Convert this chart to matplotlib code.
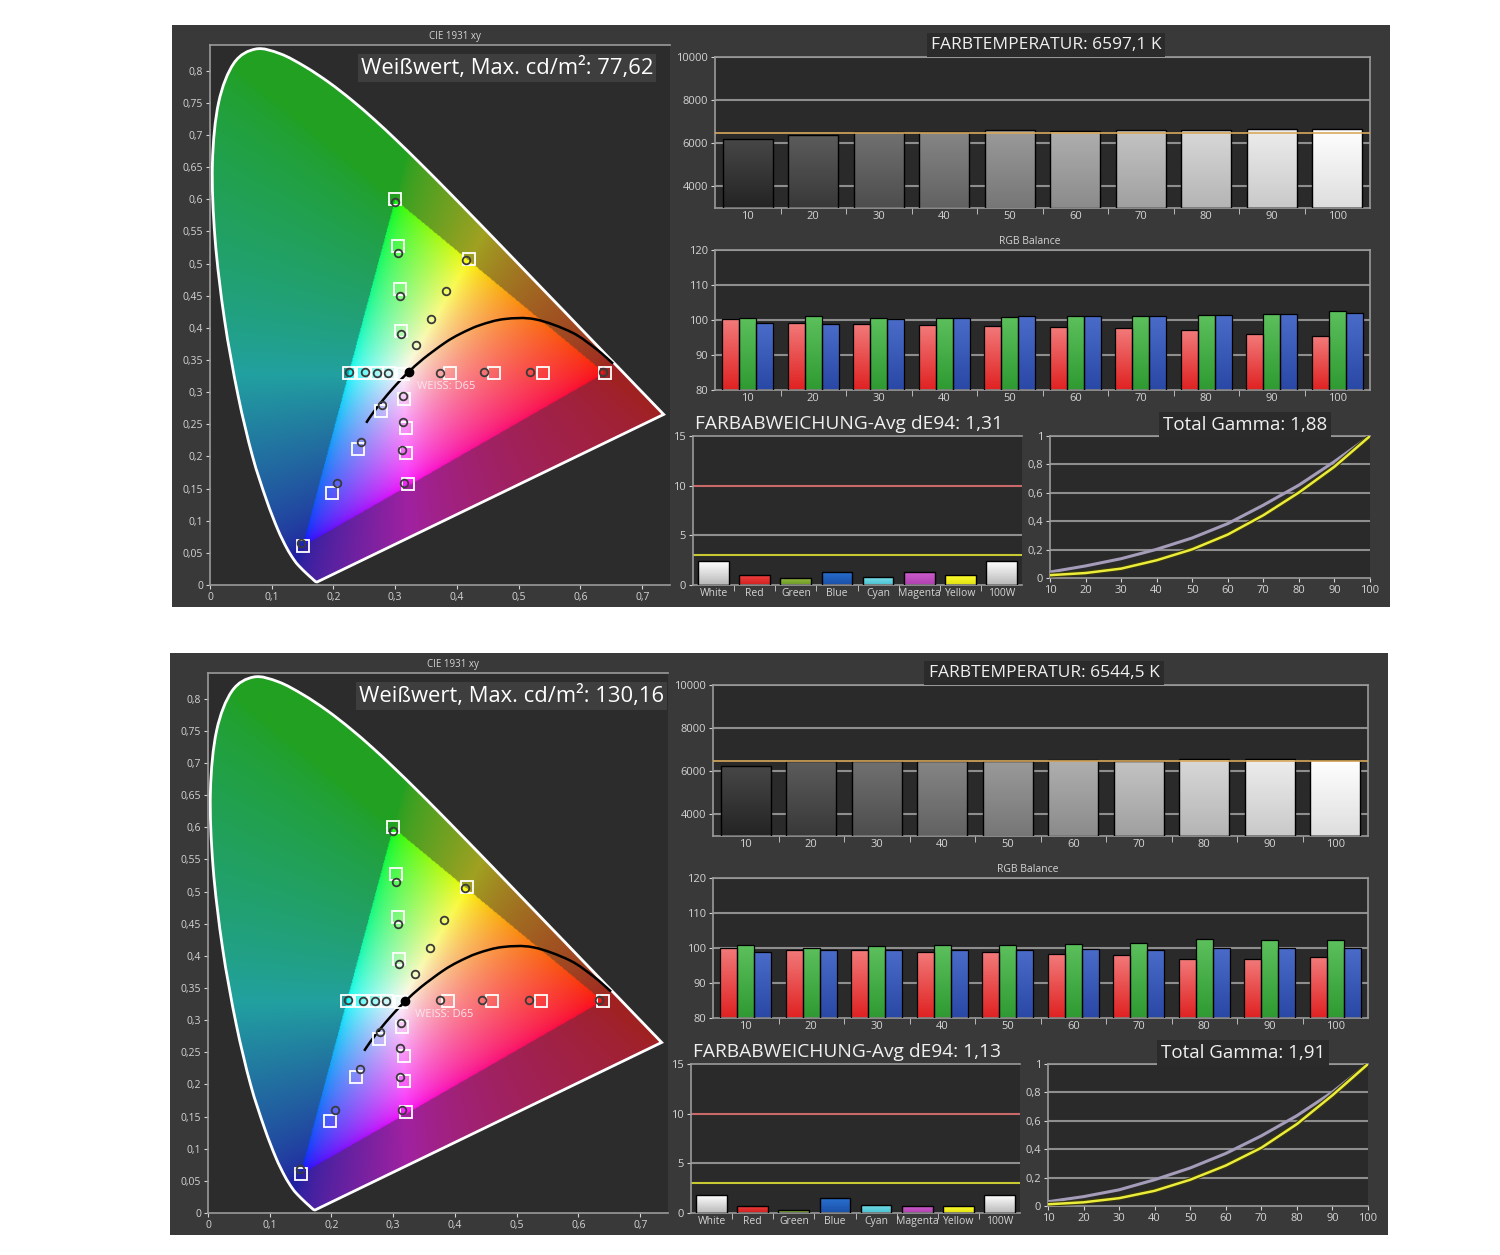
import numpy as np
import matplotlib
matplotlib.use('Agg')
import matplotlib.pyplot as plt
import matplotlib.colors as mcolors
from matplotlib.path import Path
from matplotlib.patches import Rectangle, PathPatch
from matplotlib.ticker import FuncFormatter

plt.rcParams['font.family'] = ['Open Sans', 'DejaVu Sans']

W, H = 1500, 1255

# CIE 1931 2 deg spectral locus, 380..700 nm
locus_x = [0.1741, 0.1733, 0.1714, 0.1689, 0.1644, 0.1566, 0.1440, 0.1355, 0.1241, 0.1096,
           0.0913, 0.0687, 0.0454, 0.0235, 0.0082, 0.0039, 0.0139, 0.0389, 0.0743, 0.1142,
           0.1547, 0.1929, 0.2296, 0.2658, 0.3016, 0.3373, 0.3731, 0.4087, 0.4441, 0.4788,
           0.5125, 0.5448, 0.5752, 0.6029, 0.6270, 0.6482, 0.6658, 0.6915, 0.7079, 0.7190,
           0.7260, 0.7300, 0.7334, 0.7347]
locus_y = [0.0050, 0.0048, 0.0051, 0.0069, 0.0109, 0.0177, 0.0297, 0.0399, 0.0578, 0.0868,
           0.1327, 0.2007, 0.2950, 0.4127, 0.5384, 0.6548, 0.7502, 0.8120, 0.8338, 0.8262,
           0.8059, 0.7816, 0.7543, 0.7243, 0.6923, 0.6589, 0.6245, 0.5896, 0.5547, 0.5202,
           0.4866, 0.4544, 0.4242, 0.3965, 0.3725, 0.3514, 0.3340, 0.3083, 0.2920, 0.2809,
           0.2740, 0.2700, 0.2666, 0.2653]

# Planckian locus 1000 K .. 25000 K
planck_x = [0.6528, 0.6251, 0.5857, 0.5267, 0.4770, 0.4369, 0.4053, 0.3805, 0.3451,
            0.3221, 0.3135, 0.3064, 0.2952, 0.2807, 0.2637, 0.2530]
planck_y = [0.3444, 0.3674, 0.3931, 0.4133, 0.4137, 0.4041, 0.3907, 0.3768, 0.3516,
            0.3318, 0.3237, 0.3166, 0.3048, 0.2884, 0.2674, 0.2523]

gamut_x = [0.64, 0.30, 0.15]
gamut_y = [0.33, 0.60, 0.06]

# target points (squares): red, green, blue, cyan, magenta sweeps, yellow 100 %, white
target_x = [0.388, 0.460, 0.540, 0.640, 0.310, 0.307, 0.304, 0.300, 0.277, 0.240, 0.197, 0.150,
            0.290, 0.270, 0.248, 0.225, 0.315, 0.317, 0.318, 0.320, 0.419, 0.3127]
target_y = [0.330, 0.330, 0.330, 0.330, 0.395, 0.460, 0.528, 0.600, 0.271, 0.212, 0.143, 0.060,
            0.330, 0.330, 0.330, 0.330, 0.289, 0.245, 0.205, 0.157, 0.507, 0.329]

# measured points (circles)
meas_x_top = [0.373, 0.444, 0.519, 0.636, 0.309, 0.307, 0.305, 0.2995, 0.278, 0.245, 0.205, 0.148,
              0.289, 0.271, 0.251, 0.225, 0.312, 0.312, 0.311, 0.315, 0.334, 0.358, 0.382, 0.415]
meas_y_top = [0.330, 0.332, 0.332, 0.332, 0.390, 0.450, 0.516, 0.596, 0.280, 0.222, 0.158, 0.066,
              0.330, 0.330, 0.331, 0.331, 0.294, 0.254, 0.210, 0.158, 0.373, 0.4145, 0.4575, 0.506]
meas_x_bot = [0.375, 0.443, 0.520, 0.634, 0.310, 0.308, 0.305, 0.300, 0.279, 0.246, 0.206, 0.149,
              0.289, 0.271, 0.251, 0.226, 0.312, 0.311, 0.311, 0.315, 0.335, 0.359, 0.383, 0.416]
meas_y_bot = [0.332, 0.332, 0.332, 0.332, 0.388, 0.449, 0.515, 0.594, 0.282, 0.224, 0.160, 0.068,
              0.330, 0.330, 0.330, 0.331, 0.296, 0.256, 0.212, 0.160, 0.372, 0.412, 0.456, 0.505]
white_meas_top = (0.3216, 0.331)
white_meas_bot = (0.3190, 0.330)

levels = ['10', '20', '30', '40', '50', '60', '70', '80', '90', '100']
ct_top = [6215, 6385, 6520, 6520, 6615, 6570, 6615, 6615, 6645, 6680]
ct_bot = [6260, 6500, 6490, 6490, 6500, 6520, 6500, 6560, 6560, 6510]

rgb_r_top = [100.2, 99.2, 98.8, 98.5, 98.3, 98.0, 97.7, 97.0, 95.9, 95.4]
rgb_g_top = [100.7, 101.0, 100.7, 100.7, 100.9, 101.0, 101.1, 101.4, 101.7, 102.6]
rgb_b_top = [99.0, 98.8, 100.2, 100.7, 101.0, 101.0, 101.0, 101.4, 101.7, 101.9]
rgb_r_bot = [100.0, 99.5, 99.5, 99.0, 98.8, 98.2, 98.0, 96.9, 96.9, 97.4]
rgb_g_bot = [100.8, 100.0, 100.5, 100.8, 100.8, 101.2, 101.5, 102.5, 102.2, 102.2]
rgb_b_bot = [98.8, 99.5, 99.5, 99.5, 99.5, 99.8, 99.5, 100.0, 100.0, 100.0]

de_labels = ['White', 'Red', 'Green', 'Blue', 'Cyan', 'Magenta', 'Yellow', '100W']
de_top = [2.38, 1.0, 0.73, 1.32, 0.76, 1.32, 1.0, 2.38]
de_bot = [1.8, 0.75, 0.34, 1.46, 0.85, 0.75, 0.68, 1.8]

gamma_x = [10, 20, 30, 40, 50, 60, 70, 80, 90, 100]
gamma_meas_top = [0.042, 0.085, 0.136, 0.202, 0.282, 0.383, 0.513, 0.654, 0.820, 1.0]
gamma_ref_top = [0.020, 0.035, 0.066, 0.125, 0.202, 0.306, 0.442, 0.602, 0.784, 1.0]
gamma_meas_bot = [0.030, 0.066, 0.114, 0.185, 0.268, 0.370, 0.494, 0.636, 0.802, 1.0]
gamma_ref_bot = [0.012, 0.026, 0.055, 0.107, 0.185, 0.285, 0.410, 0.577, 0.780, 1.0]

PANELS = [
    dict(dx=0, dy=0, white='77,62', temp='6597,1', de_avg='1,31', gamma='1,88',
         mx=meas_x_top, my=meas_y_top, wm=white_meas_top, ct=ct_top,
         r=rgb_r_top, g=rgb_g_top, b=rgb_b_top, de=de_top,
         gm=gamma_meas_top, gr=gamma_ref_top),
    dict(dx=-2, dy=628, white='130,16', temp='6544,5', de_avg='1,13', gamma='1,91',
         mx=meas_x_bot, my=meas_y_bot, wm=white_meas_bot, ct=ct_bot,
         r=rgb_r_bot, g=rgb_g_bot, b=rgb_b_bot, de=de_bot,
         gm=gamma_meas_bot, gr=gamma_ref_bot),
]

TXT = '#d4d4d4'
GRID = '#8e8e8e'
FACE = '#2a2a2a'


def comma(v, pos=None):
    return f"{v:g}".replace('.', ',')


def px_box(l, t, r, b, dx=0, dy=0):
    return [(l + dx) / W, 1 - (b + dy) / H, (r - l) / W, (b - t) / H]


def style_axes(ax):
    ax.set_facecolor(FACE)
    for s in ax.spines.values():
        s.set_color('#9a9a9a')
        s.set_linewidth(1.2)
    ax.tick_params(colors=TXT, labelsize=8, length=3, width=0.8, pad=2)


def smooth_path(xs, ys, close=False):
    # Catmull-Rom through the tabulated points, drawn as bezier segments
    P = np.column_stack([xs, ys])
    n = len(P)
    verts, codes = [P[0]], [Path.MOVETO]
    for i in range(n - 1):
        p0, p1, p2, p3 = P[max(i - 1, 0)], P[i], P[i + 1], P[min(i + 2, n - 1)]
        verts += [p1 + (p2 - p0) / 6, p2 - (p3 - p1) / 6, p2]
        codes += [Path.CURVE4] * 3
    if close:
        verts += [P[0], P[0]]
        codes += [Path.LINETO, Path.CLOSEPOLY]
    return Path(np.array(verts), codes)


def shade_bars(ax, bars, tops, bottoms):
    grad = np.linspace(0, 1, 64)[:, None, None]
    for bar, ct, cb in zip(bars, tops, bottoms):
        x, y = bar.get_x(), bar.get_y()
        w, h = bar.get_width(), bar.get_height()
        c1 = np.array(mcolors.to_rgb(ct))
        c0 = np.array(mcolors.to_rgb(cb))
        img = c0 + (c1 - c0) * grad
        im = ax.imshow(img, extent=[x, x + w, y, y + h], origin='lower', aspect='auto',
                       interpolation='bilinear', zorder=2.5)
        im.set_clip_path(bar)


# chromaticity background image (computed once)
xs = np.linspace(0.0005, 0.745, 520)
ys = np.linspace(0.0005, 0.84, 580)
XX, YY = np.meshgrid(xs, ys)
xyz = np.stack([XX / YY, np.ones_like(XX), (1 - XX - YY) / YY], -1)
M = np.array([[3.2406, -1.5372, -0.4986],
              [-0.9689, 1.8758, 0.0415],
              [0.0557, -0.2040, 1.0570]])
rgb = np.clip(xyz @ M.T, 0, None)
rgb = rgb / np.maximum(rgb.max(-1, keepdims=True), 1e-6)
rgb = rgb ** 0.6
pts = np.column_stack([XX.ravel(), YY.ravel()])
in_tri = Path(np.column_stack([gamut_x, gamut_y])).contains_points(pts).reshape(XX.shape)
rgb[~in_tri] = rgb[~in_tri] * 0.5 + 0.13
rgb[in_tri] = rgb[in_tri] * 0.94 + 0.04
rgb = np.clip(rgb, 0, 1)

fig = plt.figure(figsize=(W / 100, H / 100), dpi=100, facecolor='white')

for p in PANELS:
    dx, dy = p['dx'], p['dy']

    fig.patches.append(Rectangle(((172 + dx) / W, 1 - (607 + dy) / H), 1218 / W, 582 / H,
                                 transform=fig.transFigure, facecolor='#393939',
                                 edgecolor='none', zorder=-5))

    # ---------- CIE 1931 xy ----------
    ax = fig.add_axes(px_box(210, 45, 670, 585, dx, dy))
    style_axes(ax)
    ax.set_facecolor('#2c2c2c')
    ax.spines['right'].set_visible(False)
    locus_path = smooth_path(locus_x, locus_y, close=True)
    clip = PathPatch(locus_path, transform=ax.transData, facecolor='none', edgecolor='none')
    ax.add_patch(clip)
    im = ax.imshow(rgb, extent=[xs[0], xs[-1], ys[0], ys[-1]], origin='lower',
                   aspect='auto', interpolation='bilinear', zorder=1)
    im.set_clip_path(clip)
    ax.add_patch(PathPatch(locus_path, facecolor='none', edgecolor='white', lw=2, zorder=2))
    ax.add_patch(PathPatch(smooth_path(planck_x, planck_y), facecolor='none',
                           edgecolor='black', lw=1.8, zorder=3))
    ax.plot(target_x, target_y, 's', ms=8.5, mfc='none', mec='white', mew=1.3, zorder=4)
    ax.plot(p['mx'], p['my'], 'o', ms=5.5, mfc='none', mec='#3a3a3a', mew=1.3, zorder=5)
    ax.plot([p['wm'][0]], [p['wm'][1]], 'o', ms=6, mfc='black', mec='black', zorder=6)
    ax.text(0.335, 0.309, 'WEISS: D65', color='#fbe4ee', fontsize=8, va='center', zorder=6)
    ax.set_xlim(0, 0.745)
    ax.set_ylim(0, 0.84)
    ax.set_xticks(np.arange(0, 0.71, 0.1))
    ax.set_yticks(np.arange(0, 0.81, 0.05))
    ax.xaxis.set_major_formatter(FuncFormatter(comma))
    ax.yaxis.set_major_formatter(FuncFormatter(comma))
    ax.tick_params(labelsize=7.5)
    fig.text((455 + dx) / W, 1 - (37 + dy) / H, 'CIE 1931 xy', color=TXT, fontsize=7,
             ha='center', va='center')
    fig.text((361 + dx) / W, 1 - (68 + dy) / H, f"Weißwert, Max. cd/m²: {p['white']}",
             color='white', fontsize=15.8, ha='left', va='center',
             bbox=dict(facecolor='#3e3e3e', edgecolor='none', pad=2))

    # ---------- colour temperature ----------
    ax = fig.add_axes(px_box(715, 57, 1370, 208, dx, dy))
    style_axes(ax)
    pos = np.arange(len(levels))
    for v in [4000, 6000, 8000, 10000]:
        ax.axhline(v, color=GRID, lw=1.5, zorder=1)
    heights = [v - 3000 for v in p['ct']]
    bars = ax.bar(pos, heights, bottom=3000, width=0.76, facecolor='none',
                  edgecolor='black', lw=1, zorder=3)
    greys = np.linspace(0.2, 0.93, len(levels))
    shade_bars(ax, bars, [(min(g + 0.08, 1),) * 3 for g in greys], [(g - 0.06,) * 3 for g in greys])
    ax.axhline(6500, color='#d8a85a', lw=1.4, alpha=0.85, zorder=4)
    ax.set_xlim(-0.5, len(levels) - 0.5)
    ax.set_ylim(3000, 10000)
    ax.set_yticks([4000, 6000, 8000, 10000])
    ax.set_xticks(pos)
    ax.set_xticklabels(levels)
    ax.set_xticks(pos[:-1] + 0.5, minor=True)
    ax.tick_params(axis='x', which='major', length=0)
    ax.tick_params(axis='x', which='minor', length=4, color='#cfcfcf')
    fig.text((1046 + dx) / W, 1 - (45 + dy) / H, f"FARBTEMPERATUR: {p['temp']} K",
             color='#f0f0f0', fontsize=12.5, ha='center', va='center',
             bbox=dict(facecolor='#2b2b2b', edgecolor='none', pad=3))

    # ---------- RGB balance ----------
    ax = fig.add_axes(px_box(715, 250, 1370, 390, dx, dy))
    style_axes(ax)
    for v in [90, 100, 110, 120]:
        ax.axhline(v, color=GRID, lw=1.5, zorder=1)
    bw = 0.26
    series = [(p['r'], -bw, '#f27a7a', '#e02222'),
              (p['g'], 0, '#5cc05c', '#2f9a32'),
              (p['b'], bw, '#4a6cc8', '#2a48a6')]
    for vals, off, ct_, cb_ in series:
        bars = ax.bar(pos + off, [v - 80 for v in vals], bottom=80, width=bw,
                      facecolor='none', edgecolor='black', lw=0.9, zorder=3)
        shade_bars(ax, bars, [ct_] * len(vals), [cb_] * len(vals))
    ax.set_xlim(-0.5, len(levels) - 0.5)
    ax.set_ylim(80, 120)
    ax.set_yticks([80, 90, 100, 110, 120])
    ax.set_xticks(pos)
    ax.set_xticklabels(levels)
    ax.set_xticks(pos[:-1] + 0.5, minor=True)
    ax.tick_params(axis='x', which='major', length=0)
    ax.tick_params(axis='x', which='minor', length=4, color='#cfcfcf')
    fig.text((1030 + dx) / W, 1 - (242 + dy) / H, 'RGB Balance', color=TXT, fontsize=7.5,
             ha='center', va='center')

    # ---------- colour deviation dE94 ----------
    ax = fig.add_axes(px_box(693, 436, 1022, 585, dx, dy))
    style_axes(ax)
    ax.spines['right'].set_visible(False)
    ax.axhline(10, color='#c86a6a', lw=1.5, zorder=1)
    ax.axhline(5, color=GRID, lw=1.5, zorder=1)
    ax.axhline(3, color='#c8c832', lw=1.5, zorder=1)
    dpos = np.arange(len(de_labels))
    bars = ax.bar(dpos, p['de'], width=0.75, facecolor='none', edgecolor='black',
                  lw=1, zorder=3)
    de_top_c = ['#ffffff', '#f04040', '#9cc040', '#2a70d0', '#7ae0ea', '#d060d0', '#ffff30', '#ffffff']
    de_bot_c = ['#b8b8b8', '#d02020', '#6a9a28', '#1a50a8', '#48c0d0', '#b040b0', '#e0e010', '#b8b8b8']
    shade_bars(ax, bars, de_top_c, de_bot_c)
    ax.set_xlim(-0.5, len(de_labels) - 0.5)
    ax.set_ylim(0, 15)
    ax.set_yticks([0, 5, 10, 15])
    ax.set_xticks(dpos)
    ax.set_xticklabels(de_labels)
    ax.set_xticks(dpos[:-1] + 0.5, minor=True)
    ax.tick_params(axis='x', which='major', length=0, labelsize=7.5)
    ax.tick_params(axis='x', which='minor', length=4, color='#cfcfcf')
    fig.text((695 + dx) / W, 1 - (424 + dy) / H, f"FARBABWEICHUNG-Avg dE94: {p['de_avg']}",
             color='#f0f0f0', fontsize=13.8, ha='left', va='center')

    # ---------- gamma ----------
    ax = fig.add_axes(px_box(1050, 436, 1370, 578, dx, dy))
    style_axes(ax)
    ax.spines['right'].set_visible(False)
    for v in [0.2, 0.4, 0.6, 0.8, 1.0]:
        ax.axhline(v, color=GRID, lw=1.5, zorder=1)
    ax.plot(gamma_x, p['gm'], color='#a49cb8', lw=2.2, zorder=3)
    ax.plot(gamma_x, p['gr'], color='#3a3a10', lw=3.4, zorder=3.5)
    ax.plot(gamma_x, p['gr'], color='#ecec3a', lw=1.8, zorder=4)
    ax.set_xlim(10, 100)
    ax.set_ylim(0, 1)
    ax.set_xticks(gamma_x)
    ax.set_yticks([0, 0.2, 0.4, 0.6, 0.8, 1.0])
    ax.yaxis.set_major_formatter(FuncFormatter(comma))
    fig.text((1245 + dx) / W, 1 - (425 + dy) / H, f"Total Gamma: {p['gamma']}",
             color='#f0f0f0', fontsize=13.5, ha='center', va='center',
             bbox=dict(facecolor='#2b2b2b', edgecolor='none', pad=3))

fig.savefig('out.png', dpi=100, facecolor='white')
